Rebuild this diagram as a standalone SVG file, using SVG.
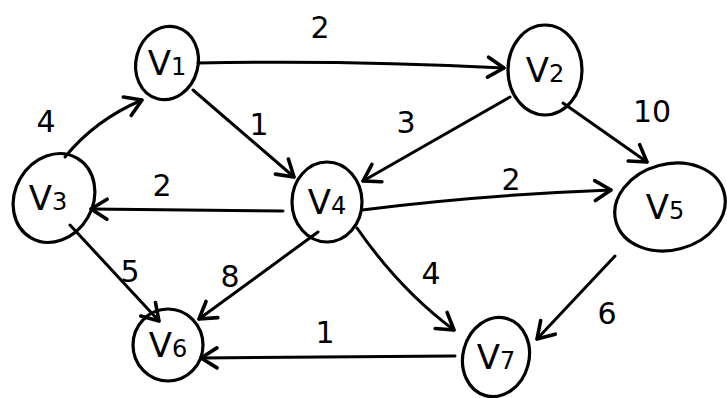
<svg xmlns="http://www.w3.org/2000/svg" width="727" height="398" viewBox="0 0 727 398">
  <style>
    .node ellipse { fill: none; stroke: #000; stroke-width: 3.2; }
    .node text { font-family: "DejaVu Sans", sans-serif; font-size: 34px; fill: #000; text-anchor: middle; }
    .node tspan { font-size: 24px; }
    .edge { fill: none; stroke: #000; stroke-width: 3; stroke-linecap: round; marker-end: url(#arrow); }
    .w { font-family: "DejaVu Sans", sans-serif; font-size: 30px; fill: #000; text-anchor: middle; }
  </style>
  <defs>
    <marker id="arrow" markerUnits="userSpaceOnUse" markerWidth="30" markerHeight="30" refX="0" refY="0" viewBox="-20 -15 25 30" orient="auto">
      <path d="M -16 -10 L 0 0 L -16 10" fill="none" stroke="#000" stroke-width="3.6" stroke-linecap="round" stroke-linejoin="round"/>
    </marker>
  </defs>

  <g id="edges">
    <path class="edge" d="M 198 63 Q 350 60 504 68"/>
    <path class="edge" d="M 65 157 Q 95 120 142 100"/>
    <path class="edge" d="M 193 90 L 294 177"/>
    <path class="edge" d="M 510 97 L 363 181"/>
    <path class="edge" d="M 563 103 L 647 162"/>
    <path class="edge" d="M 283 211 L 91 209"/>
    <path class="edge" d="M 362 210 Q 480 195 611 190"/>
    <path class="edge" d="M 70 225 L 159 321"/>
    <path class="edge" d="M 318 232 L 199 319"/>
    <path class="edge" d="M 357 228 Q 400 290 454 330"/>
    <path class="edge" d="M 615 256 L 537 339"/>
    <path class="edge" d="M 455 356 L 201 358"/>

    <text class="w" x="320" y="38">2</text>
    <text class="w" x="46" y="132">4</text>
    <text class="w" x="259" y="135">1</text>
    <text class="w" x="406" y="133">3</text>
    <text class="w" x="652" y="122">10</text>
    <text class="w" x="162" y="196">2</text>
    <text class="w" x="511" y="190">2</text>
    <text class="w" x="130" y="282">5</text>
    <text class="w" x="230" y="287">8</text>
    <text class="w" x="431" y="284">4</text>
    <text class="w" x="607" y="324">6</text>
    <text class="w" x="325" y="343">1</text>
  </g>

  <g id="v1" class="node">
    <ellipse cx="167" cy="63" rx="31" ry="37" transform="rotate(15 167 63)"/>
    <text x="167" y="75">V<tspan>1</tspan></text>
  </g>
  <g id="v2" class="node">
    <ellipse cx="545" cy="70" rx="37" ry="45"/>
    <text x="545" y="82">V<tspan>2</tspan></text>
  </g>
  <g id="v3" class="node">
    <ellipse cx="54" cy="198" rx="46" ry="39" transform="rotate(-60 54 198)"/>
    <text x="48" y="210">V<tspan>3</tspan></text>
  </g>
  <g id="v4" class="node">
    <ellipse cx="327" cy="202" rx="35" ry="40"/>
    <text x="327" y="214">V<tspan>4</tspan></text>
  </g>
  <g id="v5" class="node">
    <ellipse cx="670" cy="207" rx="56" ry="43" transform="rotate(-15 670 207)"/>
    <text x="665" y="219">V<tspan>5</tspan></text>
  </g>
  <g id="v6" class="node">
    <ellipse cx="168" cy="345" rx="35" ry="36"/>
    <text x="168" y="357">V<tspan>6</tspan></text>
  </g>
  <g id="v7" class="node">
    <ellipse cx="496" cy="357" rx="33" ry="40" transform="rotate(15 496 357)"/>
    <text x="496" y="369">V<tspan>7</tspan></text>
  </g>
</svg>
